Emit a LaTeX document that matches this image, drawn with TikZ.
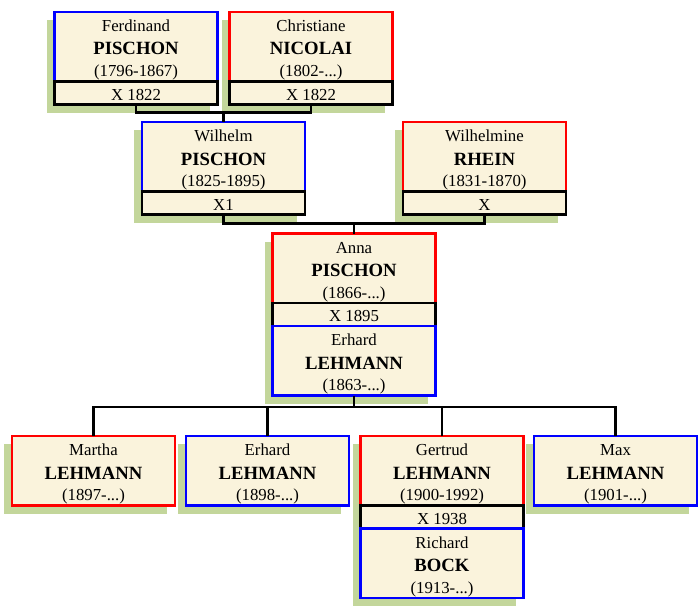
\documentclass[tikz,border=0pt]{standalone}
\usepackage{fontspec}
\setmainfont{Liberation Serif}
\usetikzlibrary{shadows}
\definecolor{cream}{RGB}{250,243,220}
\definecolor{shgreen}{RGB}{195,214,155}
\definecolor{pblue}{RGB}{0,0,255}
\definecolor{pred}{RGB}{255,0,0}
\tikzset{
  pbox/.style={rectangle, fill=cream, line width=2.2pt, minimum width=163pt,
    minimum height=69.5pt, inner sep=0pt, outer sep=0pt, anchor=north,
    general shadow={shadow xshift=-8pt, shadow yshift=-8pt, fill=shgreen}},
  mbox/.style={pbox, draw=black, line width=2.4pt, minimum height=23pt},
  fname/.style={font=\fontsize{16.8}{20}\selectfont, inner sep=0pt, anchor=base},
  lname/.style={font=\fontsize{18.7}{22}\selectfont\bfseries, inner sep=0pt, anchor=base},
  conn/.style={draw=black, line width=2.4pt}
}
\newcommand\pers[6]{% name, colour, north position, first, last, dates
  \node[pbox, draw=#2] (#1) at #3 {};
  \node[fname] (#1-a) at ([yshift=-19.5pt]#1.north) {#4};
  \node[lname] (#1-b) at ([yshift=-43pt]#1.north) {#5};
  \node[fname] (#1-c) at ([yshift=-64.5pt]#1.north) {#6};
}
\newcommand\marr[3]{% name, north position, text
  \node[mbox] (#1) at #2 {};
  \node[fname] (#1-t) at ([yshift=-18.5pt]#1.north) {#3};
}
\begin{document}
\begin{tikzpicture}[x=1pt,y=-1pt]
\useasboundingbox (0,0) rectangle (700,610);
% generation 1
\pers{ferd}{pblue}{(136,12)}{Ferdinand}{PISCHON}{(1796-1867)}
\marr{ferdm}{(ferd.south)}{X 1822}
\pers{chri}{pred}{(311,12)}{Christiane}{NICOLAI}{(1802-...)}
\marr{chrim}{(chri.south)}{X 1822}
% generation 2
\pers{wilh}{pblue}{(223.5,122)}{Wilhelm}{PISCHON}{(1825-1895)}
\marr{wilhm}{(wilh.south)}{X1}
\pers{wmin}{pred}{(484.5,122)}{Wilhelmine}{RHEIN}{(1831-1870)}
\marr{wminm}{(wmin.south)}{X}
% generation 3
\pers{anna}{pred}{(354,233.5)}{Anna}{PISCHON}{(1866-...)}
\marr{annam}{(anna.south)}{X 1895}
\pers{erha}{pblue}{(annam.south)}{Erhard}{LEHMANN}{(1863-...)}
% generation 4
\pers{mart}{pred}{(93.5,436)}{Martha}{LEHMANN}{(1897-...)}
\pers{erhb}{pblue}{(267.5,436)}{Erhard}{LEHMANN}{(1898-...)}
\pers{gert}{pred}{(442,436)}{Gertrud}{LEHMANN}{(1900-1992)}
\marr{gertm}{(gert.south)}{X 1938}
\pers{rich}{pblue}{(gertm.south)}{Richard}{BOCK}{(1913-...)}
\pers{maxl}{pblue}{(615.5,436)}{Max}{LEHMANN}{(1901-...)}
% connectors
\coordinate (j1) at (223.5,112.5);
\coordinate (j2) at (354,223.5);
\coordinate (j3) at (354,407);
\draw[conn] (ferdm.south) |- (j1) -| (chrim.south);
\draw[conn] (j1) -- (wilh.north);
\draw[conn] (wilhm.south) |- (j2) -| (wminm.south);
\draw[conn] (j2) -- (anna.north);
\draw[conn] (erha.south) -- (j3);
\draw[conn] (mart.north) |- (j3) -| (maxl.north);
\draw[conn] (erhb.north) -- (erhb.north |- j3);
\draw[conn] (gert.north) -- (gert.north |- j3);
\end{tikzpicture}
\end{document}
